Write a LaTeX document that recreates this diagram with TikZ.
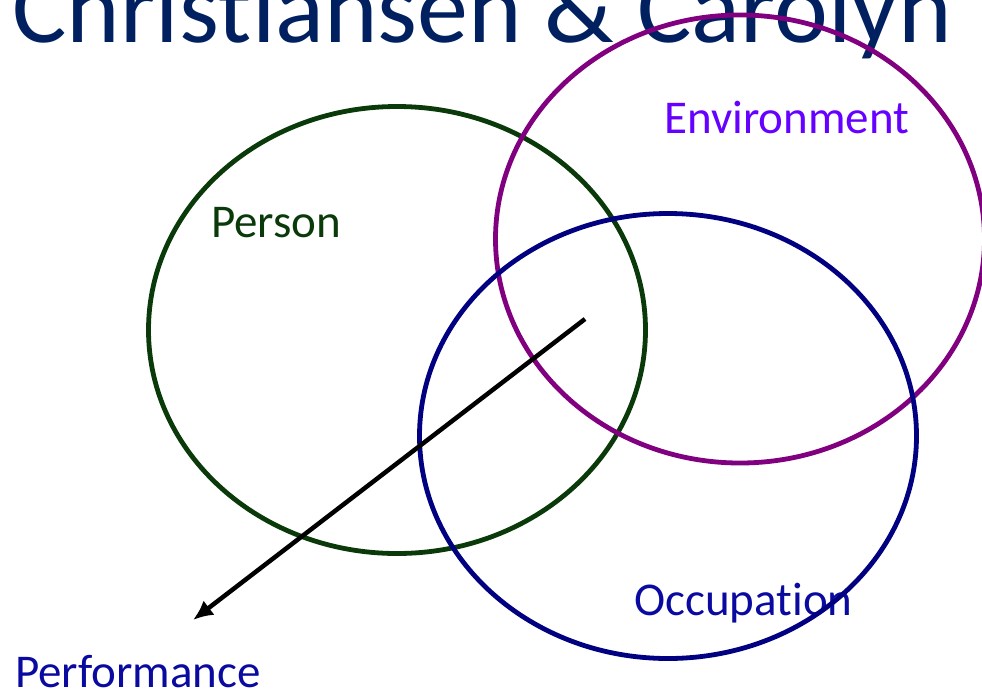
\documentclass[tikz,border=0pt]{standalone}
\usepackage{fontspec}
\setmainfont[Ligatures=NoCommon]{Carlito}
\usetikzlibrary{shapes.geometric,arrows.meta}
\definecolor{titlenavy}{HTML}{002060}
\definecolor{persongreen}{HTML}{0A3A0A}
\definecolor{envpurple}{HTML}{800080}
\definecolor{envtext}{HTML}{6600FF}
\definecolor{occnavy}{HTML}{000080}
\definecolor{labelblue}{HTML}{0A0AA0}
\tikzset{
  ring/.style={ellipse, draw, line width=4.8pt, inner sep=0pt, fill=none},
  lbl/.style={anchor=base west, inner sep=0pt, font=\fontsize{47}{47}\selectfont},
}
\begin{document}
\begin{tikzpicture}[x=1pt,y=-1pt]
\useasboundingbox (0,0) rectangle (982,694);
\node[anchor=base west, inner sep=0pt, text=titlenavy, font=\fontsize{102}{102}\selectfont] (title) at (12,42) {Christiansen \& Carolyn};
\node[lbl, text=persongreen] (person) at (211,237) {Person};
\node[lbl, text=envtext] (envlabel) at (664,133) {Environment};
\node[lbl, text=labelblue] (occlabel) at (634,615) {Occupation};
\node[lbl, text=labelblue] (perflabel) at (15,687) {Performance};
\node[ring, draw=persongreen, minimum width=497pt, minimum height=447pt] (personring) at (397,330) {};
\node[ring, draw=envpurple, minimum width=489pt, minimum height=448pt] (envring) at (740,239) {};
\node[ring, draw=occnavy, minimum width=497pt, minimum height=445pt] (occring) at (668,436) {};
\coordinate (arrowstart) at (585,319);
\coordinate (arrowend) at (193,620);
\draw[line width=4.5pt, -{Latex[length=20pt,width=18pt]}] (arrowstart) -- (arrowend);
\end{tikzpicture}
\end{document}
